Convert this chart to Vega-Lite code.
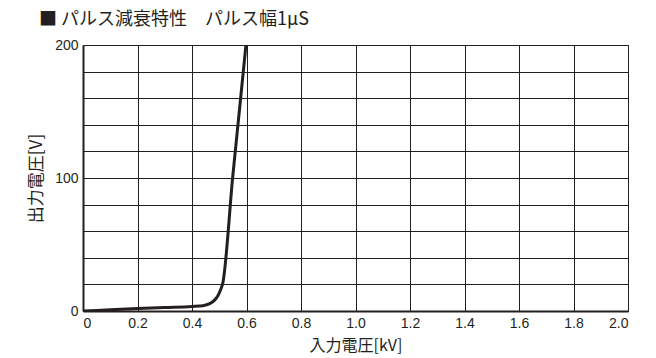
{
  "$schema": "https://vega.github.io/schema/vega-lite/v6.json",
  "width": 545,
  "height": 266,
  "autosize": {"type": "none"},
  "padding": {"left": 83, "top": 45, "right": 28, "bottom": 47},
  "background": "white",
  "title": {
    "text": "■ パルス減衰特性　パルス幅1μS",
    "anchor": "start",
    "frame": "group",
    "dx": -44,
    "offset": 9,
    "fontSize": 18,
    "fontWeight": "normal",
    "font": "Noto Sans CJK JP",
    "color": "#231f20"
  },
  "data": {
    "values": [
      {"kv": 0, "v": 0},
      {"kv": 0.1, "v": 0.9},
      {"kv": 0.2, "v": 1.8},
      {"kv": 0.3, "v": 2.6},
      {"kv": 0.4, "v": 3.4},
      {"kv": 0.44, "v": 4.0},
      {"kv": 0.465, "v": 5.5},
      {"kv": 0.482, "v": 8},
      {"kv": 0.495, "v": 11.5},
      {"kv": 0.505, "v": 16},
      {"kv": 0.513, "v": 21},
      {"kv": 0.549, "v": 100},
      {"kv": 0.598, "v": 200}
    ]
  },
  "mark": {"type": "line", "color": "#231f20", "strokeWidth": 3, "interpolate": "monotone", "clip": true},
  "encoding": {
    "x": {
      "field": "kv",
      "type": "quantitative",
      "scale": {"domain": [0, 2], "nice": false},
      "axis": {
        "values": [0, 0.2, 0.4, 0.6, 0.8, 1.0, 1.2, 1.4, 1.6, 1.8, 2.0],
        "labelExpr": "datum.value === 0 ? '0' : format(datum.value, '.1f')",
        "title": "入力電圧[kV]",
        "titleFont": "Noto Sans CJK JP",
        "titleFontSize": 16,
        "titleFontWeight": "normal",
        "titleColor": "#231f20",
        "titlePadding": 7,
        "labelFont": "Liberation Sans",
        "labelFontSize": 14,
        "labelColor": "#231f20",
        "labelPadding": 5,
        "ticks": false,
        "domainColor": "#231f20",
        "domainWidth": 2,
        "grid": true,
        "gridColor": "#231f20",
        "gridWidth": 1,
        "gridOpacity": 1
      }
    },
    "y": {
      "field": "v",
      "type": "quantitative",
      "scale": {"domain": [0, 200], "nice": false},
      "axis": {
        "values": [0, 20, 40, 60, 80, 100, 120, 140, 160, 180, 200],
        "labelExpr": "datum.value % 100 === 0 ? datum.label : ''",
        "title": "出力電圧[V]",
        "titleFont": "Noto Sans CJK JP",
        "titleFontSize": 17,
        "titleFontWeight": "normal",
        "titleColor": "#231f20",
        "titlePadding": 9,
        "labelFont": "Liberation Sans",
        "labelFontSize": 14,
        "labelColor": "#231f20",
        "labelPadding": 5,
        "ticks": false,
        "domainColor": "#231f20",
        "domainWidth": 2,
        "grid": true,
        "gridColor": "#231f20",
        "gridWidth": 1,
        "gridOpacity": 1
      }
    }
  },
  "config": {
    "view": {"stroke": "#231f20", "strokeWidth": 1}
  }
}
